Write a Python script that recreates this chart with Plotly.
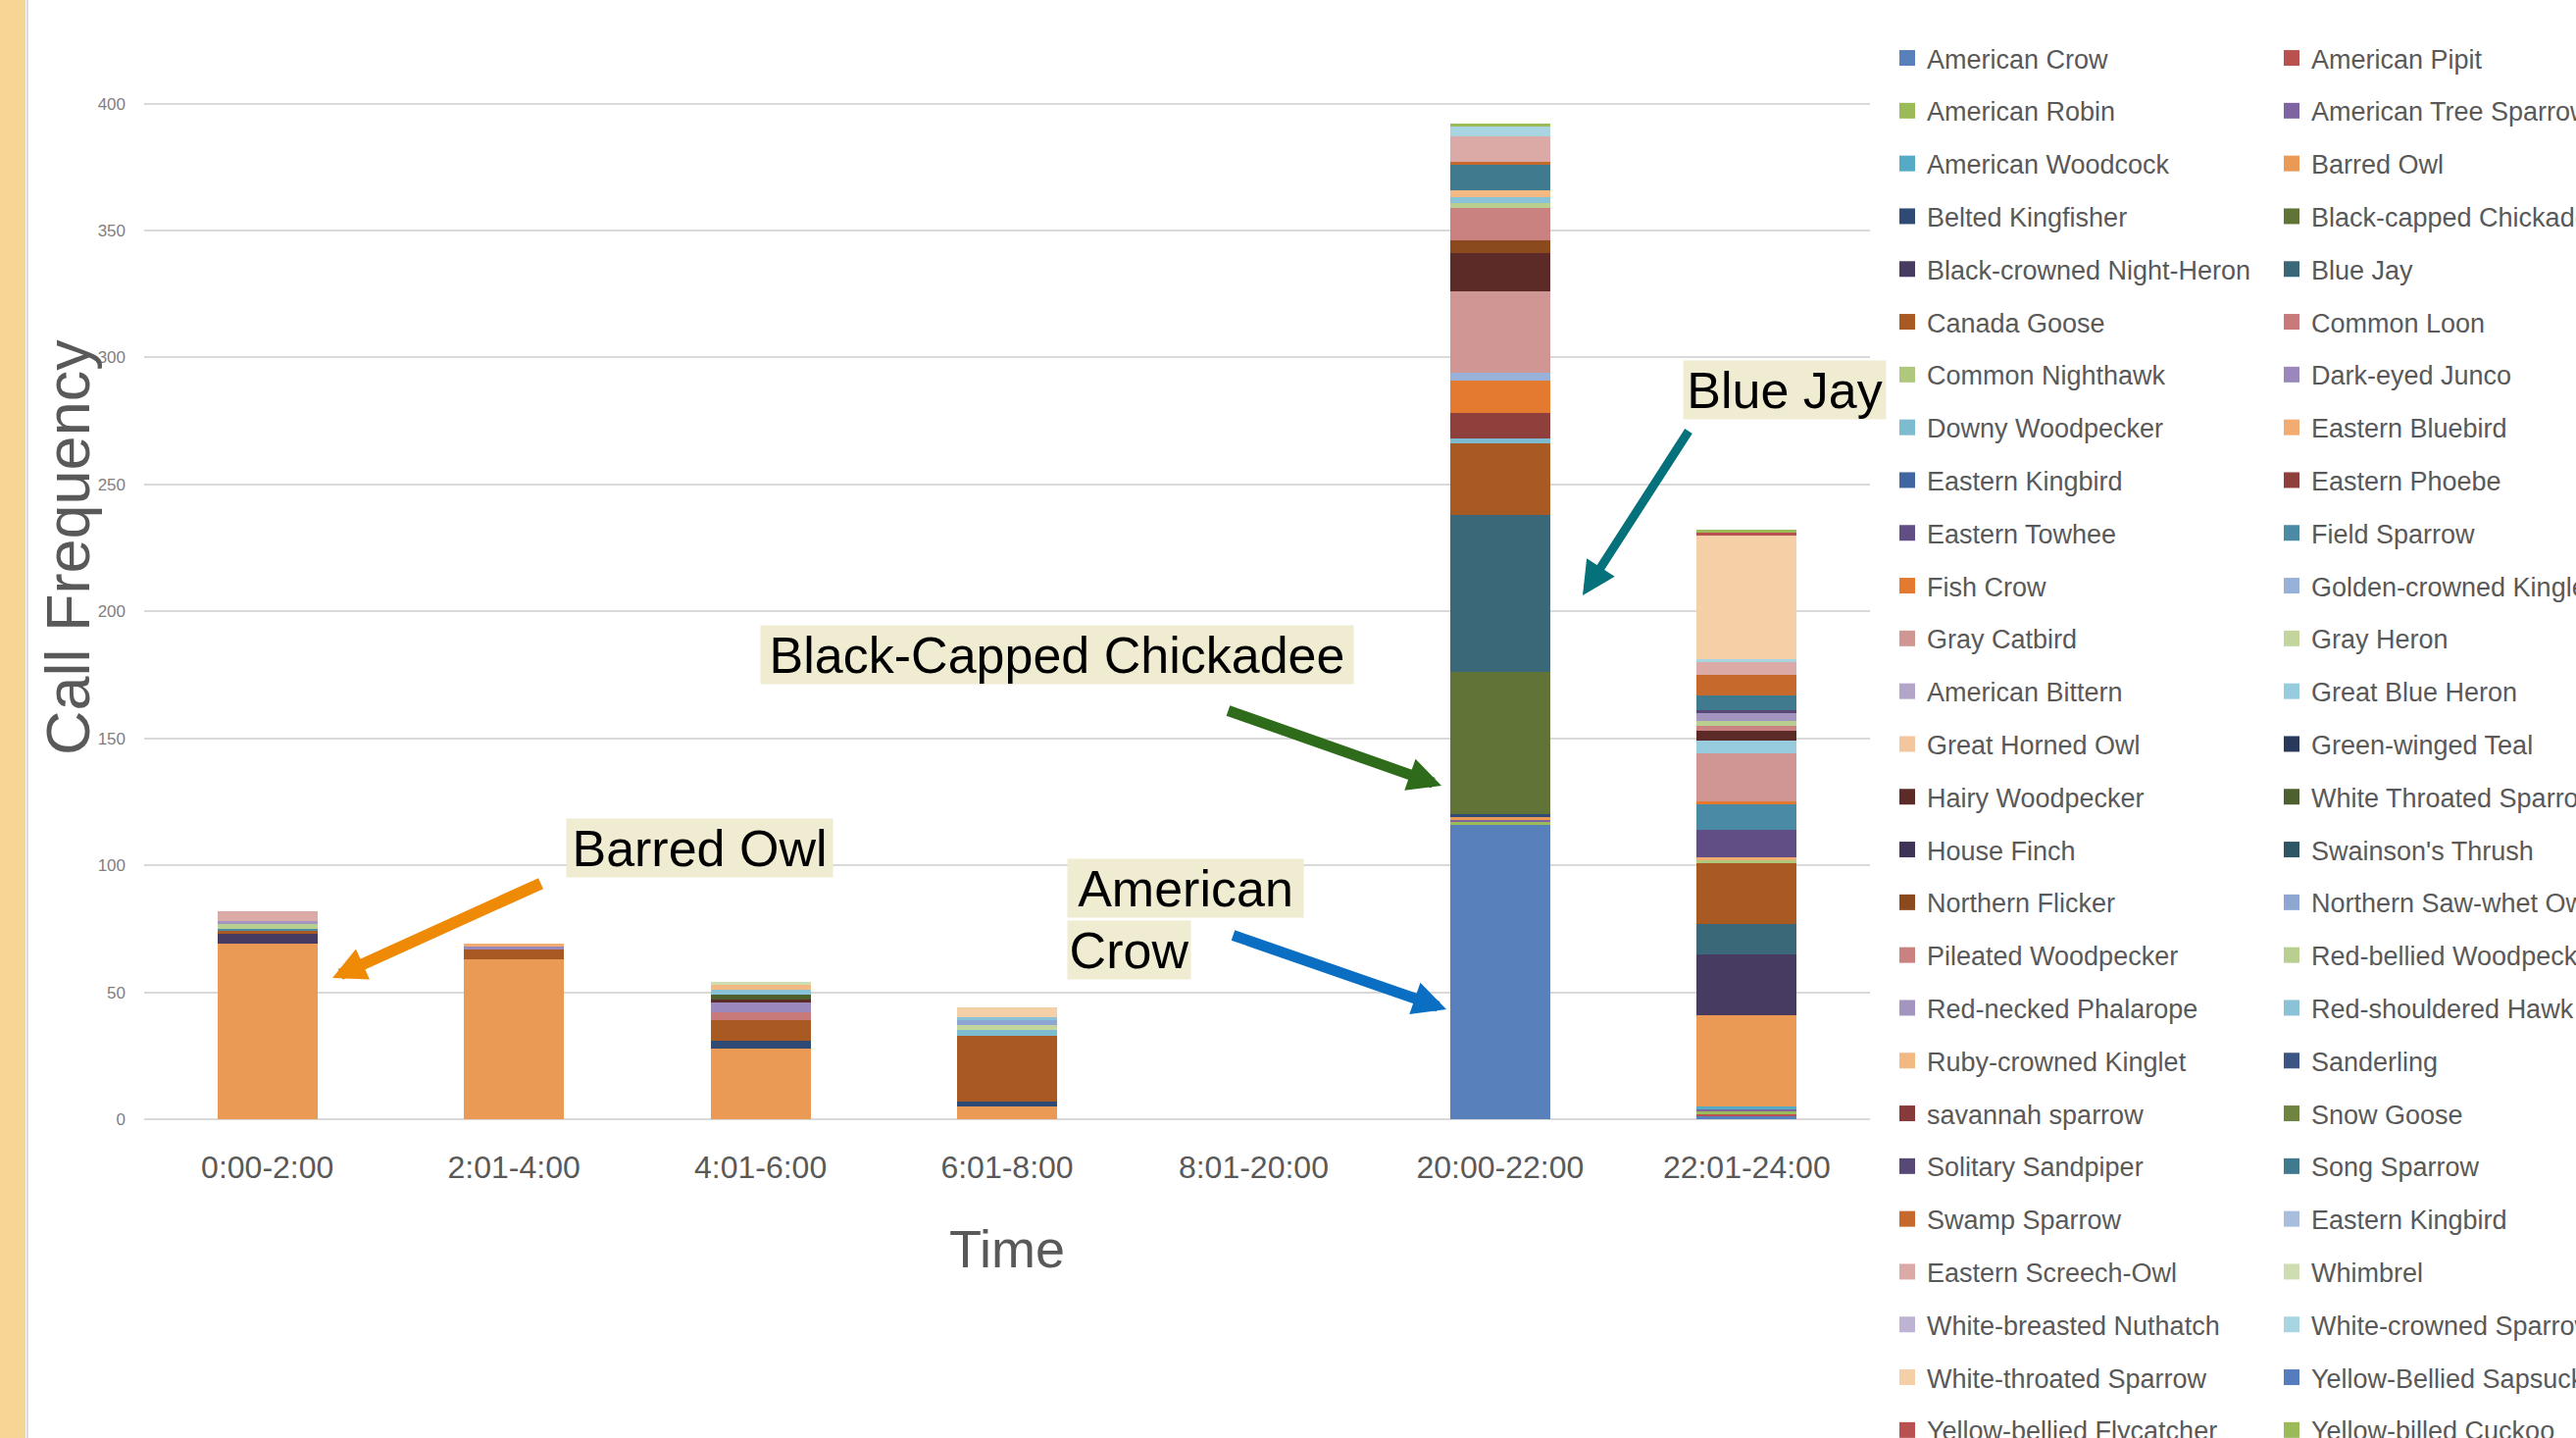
import plotly.graph_objects as go

# ---------------------------------------------------------------- data
time_slots = ["0:00-2:00", "2:01-4:00", "4:01-6:00", "6:01-8:00",
              "8:01-20:00", "20:00-22:00", "22:01-24:00"]

species = [
    "American Crow", "American Pipit", "American Robin", "American Tree Sparrow",
    "American Woodcock", "Barred Owl", "Belted Kingfisher", "Black-capped Chickadee",
    "Black-crowned Night-Heron", "Blue Jay", "Canada Goose", "Common Loon",
    "Common Nighthawk", "Dark-eyed Junco", "Downy Woodpecker", "Eastern Bluebird",
    "Eastern Kingbird", "Eastern Phoebe", "Eastern Towhee", "Field Sparrow",
    "Fish Crow", "Golden-crowned Kinglet", "Gray Catbird", "Gray Heron",
    "American Bittern", "Great Blue Heron", "Great Horned Owl", "Green-winged Teal",
    "Hairy Woodpecker", "White Throated Sparrow", "House Finch", "Swainson's Thrush",
    "Northern Flicker", "Northern Saw-whet Owl", "Pileated Woodpecker", "Red-bellied Woodpecker",
    "Red-necked Phalarope", "Red-shouldered Hawk", "Ruby-crowned Kinglet", "Sanderling",
    "savannah sparrow", "Snow Goose", "Solitary Sandpiper", "Song Sparrow",
    "Swamp Sparrow", "Eastern Kingbird", "Eastern Screech-Owl", "Whimbrel",
    "White-breasted Nuthatch", "White-crowned Sparrow", "White-throated Sparrow", "Yellow-Bellied Sapsucker",
    "Yellow-bellied Flycatcher", "Yellow-billed Cuckoo",
]

species_colors = [
    "#5880BA", "#B9524F", "#9BBB59", "#7F64A2", "#55AAC6", "#EA9A55",
    "#2F4A74", "#617336", "#473B61", "#3A6878", "#A95A22", "#C87A7A",
    "#AFC87C", "#9A87BC", "#7CBBD0", "#F2AC72", "#3F66A0", "#8F403C",
    "#604E84", "#4A8AA4", "#E47A2F", "#97B1D8", "#D09693", "#C3D59C",
    "#B3A4CA", "#97CCDF", "#F3C69E", "#29395C", "#5C2A27", "#4E602E",
    "#3F3357", "#2E5664", "#8B4A1D", "#8DA7D2", "#C98280", "#B9CF90",
    "#A394C0", "#8AC3D8", "#F2B982", "#3B5585", "#873A3A", "#6E8440",
    "#584878", "#3F7A8E", "#C56A2C", "#A9BEDE", "#DBA9A6", "#CEDEB0",
    "#BFB3D4", "#A9D5E2", "#F5CFA6", "#557DBE", "#B8514F", "#9BBB59",
]

# call counts per time slot (species -> number of calls)
calls_0000_0200 = {
    "Barred Owl": 69, "Black-crowned Night-Heron": 4, "Canada Goose": 1,
    "Field Sparrow": 1, "Red-bellied Woodpecker": 2, "Red-necked Phalarope": 1,
    "Eastern Screech-Owl": 4,
}
calls_0201_0400 = {
    "Barred Owl": 63, "Canada Goose": 4, "Dark-eyed Junco": 1, "Eastern Bluebird": 1,
}
calls_0401_0600 = {
    "Barred Owl": 28, "Belted Kingfisher": 3, "Canada Goose": 8, "Common Loon": 3,
    "Dark-eyed Junco": 4, "Hairy Woodpecker": 1, "White Throated Sparrow": 2,
    "Red-shouldered Hawk": 2, "Ruby-crowned Kinglet": 2, "Whimbrel": 1,
}
calls_0601_0800 = {
    "Barred Owl": 5, "Belted Kingfisher": 2, "Canada Goose": 26, "Downy Woodpecker": 2,
    "Gray Heron": 2, "Northern Saw-whet Owl": 2, "Red-shouldered Hawk": 1,
    "White-throated Sparrow": 4,
}
calls_0801_2000 = {}
calls_2000_2200 = {
    "American Crow": 116, "American Robin": 1, "American Tree Sparrow": 1,
    "Barred Owl": 1, "Belted Kingfisher": 1, "Black-capped Chickadee": 56,
    "Blue Jay": 62, "Canada Goose": 28, "Downy Woodpecker": 2, "Eastern Phoebe": 10,
    "Fish Crow": 13, "Golden-crowned Kinglet": 3, "Gray Catbird": 32,
    "Hairy Woodpecker": 15, "Northern Flicker": 5, "Pileated Woodpecker": 13,
    "Red-bellied Woodpecker": 2, "Red-shouldered Hawk": 2, "Ruby-crowned Kinglet": 3,
    "Song Sparrow": 10, "Swamp Sparrow": 1, "Eastern Screech-Owl": 10,
    "White-crowned Sparrow": 4, "Yellow-billed Cuckoo": 1,
}
calls_2201_2400 = {
    "American Crow": 1, "American Pipit": 1, "American Robin": 1,
    "American Tree Sparrow": 1, "American Woodcock": 1, "Barred Owl": 36,
    "Black-crowned Night-Heron": 24, "Blue Jay": 12, "Canada Goose": 24,
    "Common Nighthawk": 1, "Eastern Bluebird": 1, "Eastern Towhee": 11,
    "Field Sparrow": 10, "Fish Crow": 1, "Gray Catbird": 19, "Great Blue Heron": 5,
    "Hairy Woodpecker": 4, "Pileated Woodpecker": 2, "Red-bellied Woodpecker": 2,
    "Red-necked Phalarope": 3, "Solitary Sandpiper": 1, "Song Sparrow": 6,
    "Swamp Sparrow": 8, "Eastern Screech-Owl": 5, "White-crowned Sparrow": 1,
    "White-throated Sparrow": 49, "Yellow-bellied Flycatcher": 1,
    "Yellow-billed Cuckoo": 1,
}
slot_counts = [calls_0000_0200, calls_0201_0400, calls_0401_0600, calls_0601_0800,
               calls_0801_2000, calls_2000_2200, calls_2201_2400]

y_ticks = [0, 50, 100, 150, 200, 250, 300, 350, 400]

# ---------------------------------------------------------------- layout geometry
FIG_W, FIG_H = 2627, 1466
PLOT_L, PLOT_R, PLOT_B = 147, 1907, 1141      # plot area edges in px (top at 0)
PX_PER_CALL = 2.5885

SANS = "Liberation Sans, Arial, sans-serif"
GREY_TEXT = "#595959"


def px_x(px):
    return (px - PLOT_L) / (PLOT_R - PLOT_L)


def px_y(py):
    return (PLOT_B - py) / PLOT_B


fig = go.Figure()

for i, (name, color) in enumerate(zip(species, species_colors)):
    group = f"sp{i}"
    which_legend = "legend" if i % 2 == 0 else "legend2"
    # stacked bar segment of this species in every time slot
    fig.add_trace(go.Bar(
        x=time_slots,
        y=[slot.get(name, 0) for slot in slot_counts],
        name=name,
        marker=dict(color=color, line=dict(width=0)),
        legendgroup=group,
        showlegend=False,
    ))
    # square legend key for the same species
    fig.add_trace(go.Scatter(
        x=[None], y=[None], mode="markers", name=name,
        marker=dict(symbol="square", size=16, color=color, line=dict(width=0)),
        legend=which_legend, legendgroup=group, showlegend=True,
        hoverinfo="skip",
    ))

legend_style = dict(
    font=dict(family=SANS, size=27, color=GREY_TEXT),
    bgcolor="rgba(0,0,0,0)",
    traceorder="grouped",
    tracegroupgap=15.7,
    xanchor="left",
    yanchor="top",
    y=px_y(35),
    maxheight=3000,
)

fig.update_layout(
    width=FIG_W,
    height=FIG_H,
    margin=dict(l=PLOT_L, r=FIG_W - PLOT_R, t=0, b=FIG_H - PLOT_B, autoexpand=False),
    paper_bgcolor="white",
    plot_bgcolor="white",
    barmode="stack",
    bargap=0.594,
    showlegend=True,
    legend=dict(x=px_x(1925), **legend_style),
    legend2=dict(x=px_x(2317), **legend_style),
    xaxis=dict(
        showgrid=False,
        showline=False,
        ticks="",
        tickfont=dict(family=SANS, size=32, color=GREY_TEXT),
        ticklabelstandoff=27,
    ),
    yaxis=dict(
        range=[0, PLOT_B / PX_PER_CALL],
        tickvals=y_ticks,
        showgrid=True,
        gridcolor="#D9D9D9",
        gridwidth=2,
        zeroline=True,
        zerolinecolor="#D9D9D9",
        zerolinewidth=2,
        showline=False,
        ticks="",
        tickfont=dict(family=SANS, size=17, color="#7F7F7F"),
        ticklabelstandoff=18,
    ),
)

# slide decoration: coloured side band and its edge
fig.add_shape(type="rect", xref="paper", yref="paper",
              x0=px_x(0), x1=px_x(26), y0=px_y(FIG_H), y1=px_y(0),
              fillcolor="#F7D595", line=dict(width=0))
fig.add_shape(type="line", xref="paper", yref="paper",
              x0=px_x(28), x1=px_x(28), y0=px_y(FIG_H), y1=px_y(0),
              line=dict(color="#DCDCDC", width=2))

# axis titles
fig.add_annotation(text="Call Frequency", xref="paper", yref="paper",
                   x=px_x(69), y=px_y(558), textangle=-90, showarrow=False,
                   xanchor="center", yanchor="middle",
                   font=dict(family=SANS, size=63, color=GREY_TEXT))
fig.add_annotation(text="Time", xref="paper", yref="paper",
                   x=px_x(1027), y=px_y(1273), showarrow=False,
                   xanchor="center", yanchor="middle",
                   font=dict(family=SANS, size=54, color=GREY_TEXT))

# callout labels: (text, centre x, centre y, box width)
callouts = [
    ("Barred Owl", 713, 864, 271),
    ("Black-Capped Chickadee", 1078, 667, 604),
    ("American", 1209, 905, 240),
    ("Crow", 1151, 968, 125),
    ("Blue Jay", 1820, 397, 206),
]
for text, cx, cy, bw in callouts:
    fig.add_annotation(text=text, xref="paper", yref="paper",
                       x=px_x(cx), y=px_y(cy), showarrow=False,
                       xanchor="center", yanchor="middle",
                       width=bw, height=59, borderpad=0,
                       bgcolor="#F0ECD2",
                       font=dict(family=SANS, size=52, color="black"))

# callout arrows: (tail x, tail y, tip x, tip y, colour, shaft width)
arrows = [
    (553, 900, 339, 997, "#EF8A06", 12),
    (1251, 724, 1470, 801, "#2E6B1A", 11),
    (1256, 953, 1475, 1029, "#0A6FC2", 11),
    (1723, 438, 1614, 607, "#04717B", 9),
]
for tx, ty, hx, hy, col, w in arrows:
    fig.add_annotation(text="", xref="paper", yref="paper",
                       x=px_x(hx), y=px_y(hy), ax=tx - hx, ay=ty - hy,
                       showarrow=True, arrowhead=2, arrowsize=6.8 / w,
                       arrowwidth=w, arrowcolor=col, standoff=0)

fig.write_html("out.html")
